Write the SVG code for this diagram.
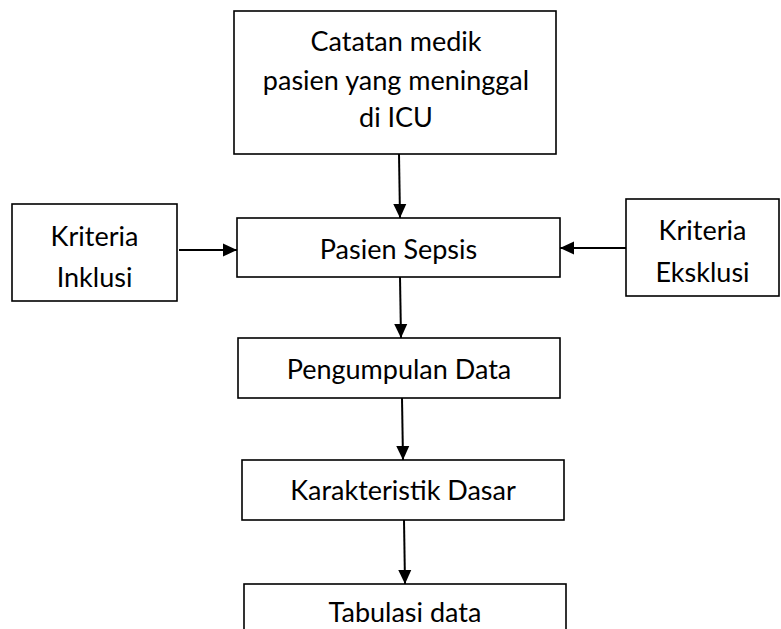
<svg xmlns="http://www.w3.org/2000/svg" width="781" height="629" viewBox="0 0 781 629">
<style>
.box{fill:#fff;stroke:#000;stroke-width:1.6}
.t{font-family:Lato,"Liberation Sans",sans-serif;font-size:27px;fill:#000;text-anchor:middle}
.c{stroke:#000;stroke-width:2;fill:none;marker-end:url(#ah)}
</style>
<defs>
<marker id="ah" markerUnits="userSpaceOnUse" markerWidth="14" markerHeight="15" viewBox="0 0 15 14" refX="15" refY="7" orient="auto">
<path d="M0,0 L15,7 L0,14 Z" fill="#000"/>
</marker>
</defs>
<rect width="781" height="629" fill="#fff"/>
<g id="connectors">
<line class="c" x1="399" y1="154" x2="400" y2="218"/>
<line class="c" x1="179" y1="250" x2="237" y2="250"/>
<line class="c" x1="626" y1="248" x2="560" y2="248"/>
<line class="c" x1="400" y1="277" x2="401" y2="338"/>
<line class="c" x1="402" y1="398" x2="403" y2="460"/>
<line class="c" x1="404" y1="520" x2="405" y2="584"/>
</g>
<g id="catatan">
<rect class="box" x="234" y="11" width="322" height="143"/>
<text class="t" x="396" y="51">Catatan medik</text>
<text class="t" x="396" y="90">pasien yang meninggal</text>
<text class="t" x="396" y="127">di ICU</text>
</g>
<g id="inklusi">
<rect class="box" x="12" y="204" width="165" height="97"/>
<text class="t" x="94.5" y="246">Kriteria</text>
<text class="t" x="94.5" y="287">Inklusi</text>
</g>
<g id="pasien">
<rect class="box" x="237" y="218" width="323" height="59"/>
<text class="t" x="398.5" y="259">Pasien Sepsis</text>
</g>
<g id="eksklusi">
<rect class="box" x="626" y="199" width="153" height="97"/>
<text class="t" x="702.5" y="240">Kriteria</text>
<text class="t" x="702.5" y="282">Eksklusi</text>
</g>
<g id="pengumpulan">
<rect class="box" x="238" y="338" width="322" height="60"/>
<text class="t" x="399" y="379">Pengumpulan Data</text>
</g>
<g id="karakteristik">
<rect class="box" x="242" y="460" width="322" height="60"/>
<text class="t" x="403" y="500">Karakteristik Dasar</text>
</g>
<g id="tabulasi">
<rect class="box" x="244" y="584" width="322" height="60"/>
<text class="t" x="405" y="622">Tabulasi data</text>
</g>
</svg>
